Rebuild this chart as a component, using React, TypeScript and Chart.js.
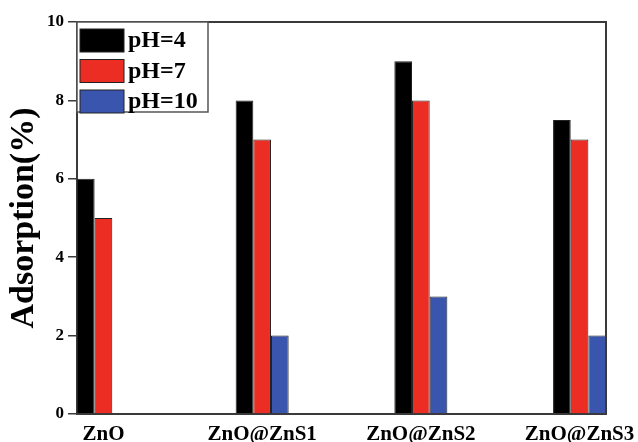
import React, { useEffect, useRef } from 'react';
import { Chart, registerables } from 'chart.js';
Chart.register(...registerables);

const categories = ['ZnO', 'ZnO@ZnS1', 'ZnO@ZnS2', 'ZnO@ZnS3'];
const seriesLabels = ['pH=4', 'pH=7', 'pH=10'];
const ph4 = [6, 8, 9, 7.5];
const ph7 = [5, 7, 8, 7];
const ph10: (number | null)[] = [null, 2, 3, 2];
const yTicks = [0, 2, 4, 6, 8, 10];
const colors = ['#000000', '#ec2d24', '#3a55ae'];

const SERIF = "'Liberation Serif', 'Times New Roman', serif";
const AXIS = '#3a3a3a';

const framePlugin = {
  id: 'frame',
  afterDraw(chart: any) {
    const { ctx, chartArea } = chart;
    const { left, right, top, bottom } = chartArea;
    ctx.save();
    ctx.strokeStyle = AXIS;
    ctx.lineWidth = 2;
    ctx.beginPath();
    ctx.moveTo(left, top);
    ctx.lineTo(right, top);
    ctx.lineTo(right, bottom);
    ctx.stroke();

    // legend inside plot area
    const bx = left, by = top, bw = 131, bh = 90;
    ctx.fillStyle = '#ffffff';
    ctx.fillRect(bx, by, bw, bh);
    ctx.strokeStyle = '#555555';
    ctx.lineWidth = 1.5;
    ctx.strokeRect(bx, by, bw, bh);
    chart.data.datasets.forEach((ds: any, i: number) => {
      const sy = by + 7 + i * 30.5;
      ctx.fillStyle = ds.backgroundColor;
      ctx.fillRect(bx + 3, sy, 44, 23);
      ctx.strokeStyle = '#222';
      ctx.lineWidth = 1;
      ctx.strokeRect(bx + 3, sy, 44, 23);
      ctx.fillStyle = '#000';
      ctx.font = `bold 24px ${SERIF}`;
      ctx.textAlign = 'left';
      ctx.textBaseline = 'middle';
      ctx.fillText(ds.label, bx + 51, sy + 12);
    });
    ctx.restore();
  },
};

export default function App() {
  const ref = useRef<HTMLCanvasElement | null>(null);
  useEffect(() => {
    if (!ref.current) return;
    const series = [ph4, ph7, ph10];
    const chart = new Chart(ref.current, {
      type: 'bar',
      data: {
        datasets: series.map((vals, s) => ({
          label: seriesLabels[s],
          data: vals.map((y, i) => ({ x: i, y })),
          backgroundColor: colors[s],
          borderColor: '#222222',
          borderWidth: 1,
          categoryPercentage: 0.334,
          barPercentage: 1,
        })),
      },
      options: {
        animation: false,
        responsive: false,
        layout: { padding: { top: 22, right: 32, left: 0, bottom: 0 } },
        plugins: { legend: { display: false }, tooltip: { enabled: false } },
        scales: {
          x: {
            type: 'linear',
            offset: false,
            min: -1 / 6,
            max: 3 + 1 / 6,
            afterBuildTicks: (axis: any) => {
              axis.ticks = categories.map((_, i) => ({ value: i }));
            },
            afterFit: (axis: any) => {
              axis.height = 28;
              axis.paddingLeft = 0;
              axis.paddingRight = 0;
            },
            grid: { display: false, drawTicks: false, offset: false },
            border: { display: true, color: AXIS, width: 2 },
            ticks: {
              autoSkip: false,
              maxRotation: 0,
              padding: 8,
              color: '#000',
              font: { family: SERIF, weight: 'bold', size: 21 },
              callback: (v: any) => categories[Math.round(Number(v))] ?? '',
            },
          },
          y: {
            min: 0,
            max: 10,
            afterBuildTicks: (axis: any) => {
              axis.ticks = yTicks.map((v) => ({ value: v }));
            },
            afterFit: (axis: any) => {
              axis.width = 77;
              axis.paddingTop = 0;
              axis.paddingBottom = 0;
            },
            grid: {
              display: true,
              drawOnChartArea: false,
              drawTicks: true,
              tickLength: 9,
              color: AXIS,
              lineWidth: 1.5,
            },
            border: { display: true, color: AXIS, width: 2 },
            ticks: {
              padding: 4,
              color: '#000',
              font: { family: SERIF, weight: 'bold', size: 17 },
            },
            title: {
              display: true,
              text: 'Adsorption(%)',
              color: '#000',
              font: { family: SERIF, weight: 'bold', size: 34 },
              padding: { top: 4, bottom: 0 },
            },
          },
        },
      },
      plugins: [framePlugin],
    } as any);
    return () => chart.destroy();
  }, []);
  return (
    <div style={{ position: 'absolute', left: 0, top: 0, width: 638, height: 442, background: '#fff' }}>
      <canvas ref={ref} width={638} height={442} />
    </div>
  );
}
